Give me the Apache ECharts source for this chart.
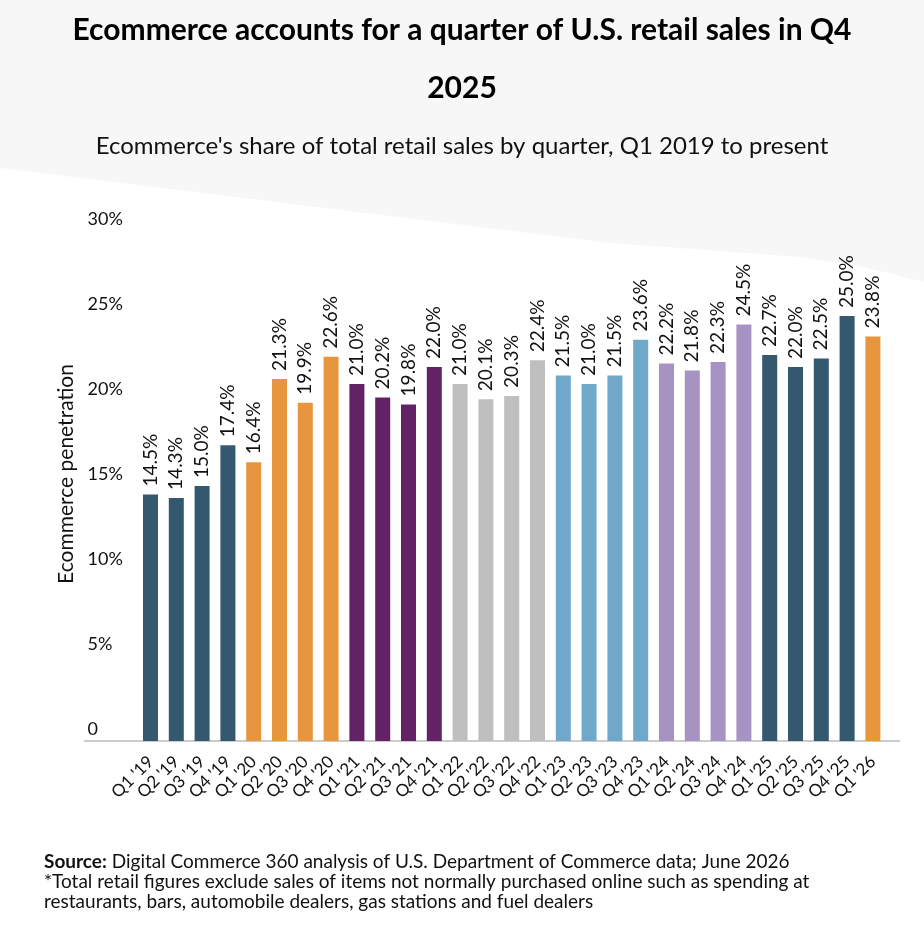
<!DOCTYPE html>
<html>
<head>
<meta charset="utf-8">
<script src="https://cdn.jsdelivr.net/npm/echarts@6/dist/echarts.min.js"></script>
<style>
  html, body { margin: 0; padding: 0; background: #fff; }
  #chart { width: 924px; height: 942px; }
</style>
</head>
<body>
<div id="chart"></div>
<script>
const QUARTERS = [
  "Q1 '19", "Q2 '19", "Q3 '19", "Q4 '19",
  "Q1 '20", "Q2 '20", "Q3 '20", "Q4 '20",
  "Q1 '21", "Q2 '21", "Q3 '21", "Q4 '21",
  "Q1 '22", "Q2 '22", "Q3 '22", "Q4 '22",
  "Q1 '23", "Q2 '23", "Q3 '23", "Q4 '23",
  "Q1 '24", "Q2 '24", "Q3 '24", "Q4 '24",
  "Q1 '25", "Q2 '25", "Q3 '25", "Q4 '25",
  "Q1 '26",
];

const SHARE = [
  14.5, 14.3, 15.0, 17.4,
  16.4, 21.3, 19.9, 22.6,
  21.0, 20.2, 19.8, 22.0,
  21.0, 20.1, 20.3, 22.4,
  21.5, 21.0, 21.5, 23.6,
  22.2, 21.8, 22.3, 24.5,
  22.7, 22.0, 22.5, 25.0,
  23.8,
];

const Y_TICKS = [0, 5, 10, 15, 20, 25, 30];

// one colour per year of the quarter
const YEAR_COLORS = {
  '19': '#34586e', '20': '#e8963e', '21': '#632266', '22': '#bfbfbf',
  '23': '#6fa8c9', '24': '#a793c3', '25': '#34586e', '26': '#e8963e',
};

const FONT = 'Lato, "Open Sans", sans-serif';
const INK = '#111';

const chart = echarts.init(document.getElementById('chart'), null, { renderer: 'canvas' });

chart.setOption({
  backgroundColor: '#fff',
  textStyle: { fontFamily: FONT, color: INK },
  title: [
    {
      text: 'Ecommerce accounts for a quarter of U.S. retail sales in Q4\n2025',
      left: 'center', top: -4,
      textStyle: { fontFamily: FONT, fontSize: 30, fontWeight: 'bold', color: '#000', lineHeight: 58 },
    },
    {
      text: "Ecommerce's share of total retail sales by quarter, Q1 2019 to present",
      left: 'center', top: 127,
      textStyle: { fontFamily: FONT, fontSize: 24, fontWeight: 'normal', color: INK, lineHeight: 28 },
    },
  ],
  grid: { left: 137.6, right: 38.2, top: 231, bottom: 201, containLabel: false },
  xAxis: {
    type: 'category',
    data: QUARTERS,
    axisLine: { show: false },
    axisTick: { show: false },
    axisLabel: { color: INK, fontSize: 17, rotate: 45, margin: 18, interval: 0, fontFamily: FONT },
  },
  yAxis: {
    type: 'value',
    min: 0, max: 30, interval: 5,
    name: 'Ecommerce penetration',
    nameLocation: 'middle',
    nameGap: 60,
    nameTextStyle: { fontSize: 21, color: INK, fontFamily: FONT, padding: [0, 0, 0, 24] },
    axisLine: { show: false },
    axisTick: { show: false },
    splitLine: { show: false },
    axisLabel: {
      color: INK, fontSize: 18, fontFamily: FONT,
      align: 'left', margin: 50, verticalAlign: 'bottom', lineHeight: 24,
      formatter: v => (Y_TICKS.includes(v) ? (v === 0 ? '0' : v + '%') : ''),
    },
  },
  series: [{
    type: 'bar',
    barWidth: 15,
    data: SHARE.map((v, i) => ({
      value: v,
      itemStyle: { color: YEAR_COLORS[QUARTERS[i].slice(-2)] },
    })),
    label: {
      show: true,
      position: 'top',
      rotate: 90,
      align: 'left',
      verticalAlign: 'middle',
      distance: 8,
      fontSize: 19,
      fontFamily: FONT,
      color: INK,
      formatter: p => p.value.toFixed(1) + '%',
    },
  }],
  graphic: [
    {
      type: 'polygon', z: -10, silent: true,
      shape: { points: [[0, 0], [924, 0], [924, 282], [860, 266], [800, 257], [610, 243], [300, 205], [0, 168]] },
      style: { fill: '#f7f7f7' },
    },
    {
      type: 'line', z: 1, silent: true,
      shape: { x1: 84, y1: 741, x2: 900, y2: 741 },
      style: { stroke: '#cccccc', lineWidth: 2 },
    },
    {
      type: 'text', left: 44, top: 852, silent: true,
      style: {
        text: '{b|Source:} Digital Commerce 360 analysis of U.S. Department of Commerce data; June 2026\n' +
              '*Total retail figures exclude sales of items not normally purchased online such as spending at\n' +
              'restaurants, bars, automobile dealers, gas stations and fuel dealers',
        font: '19px ' + FONT,
        fill: INK,
        lineHeight: 20,
        rich: {
          b: { fontWeight: 'bold', fontSize: 19, fontFamily: FONT, lineHeight: 20, fill: INK },
        },
      },
    },
  ],
});

window.addEventListener('resize', () => chart.resize());
</script>
</body>
</html>
